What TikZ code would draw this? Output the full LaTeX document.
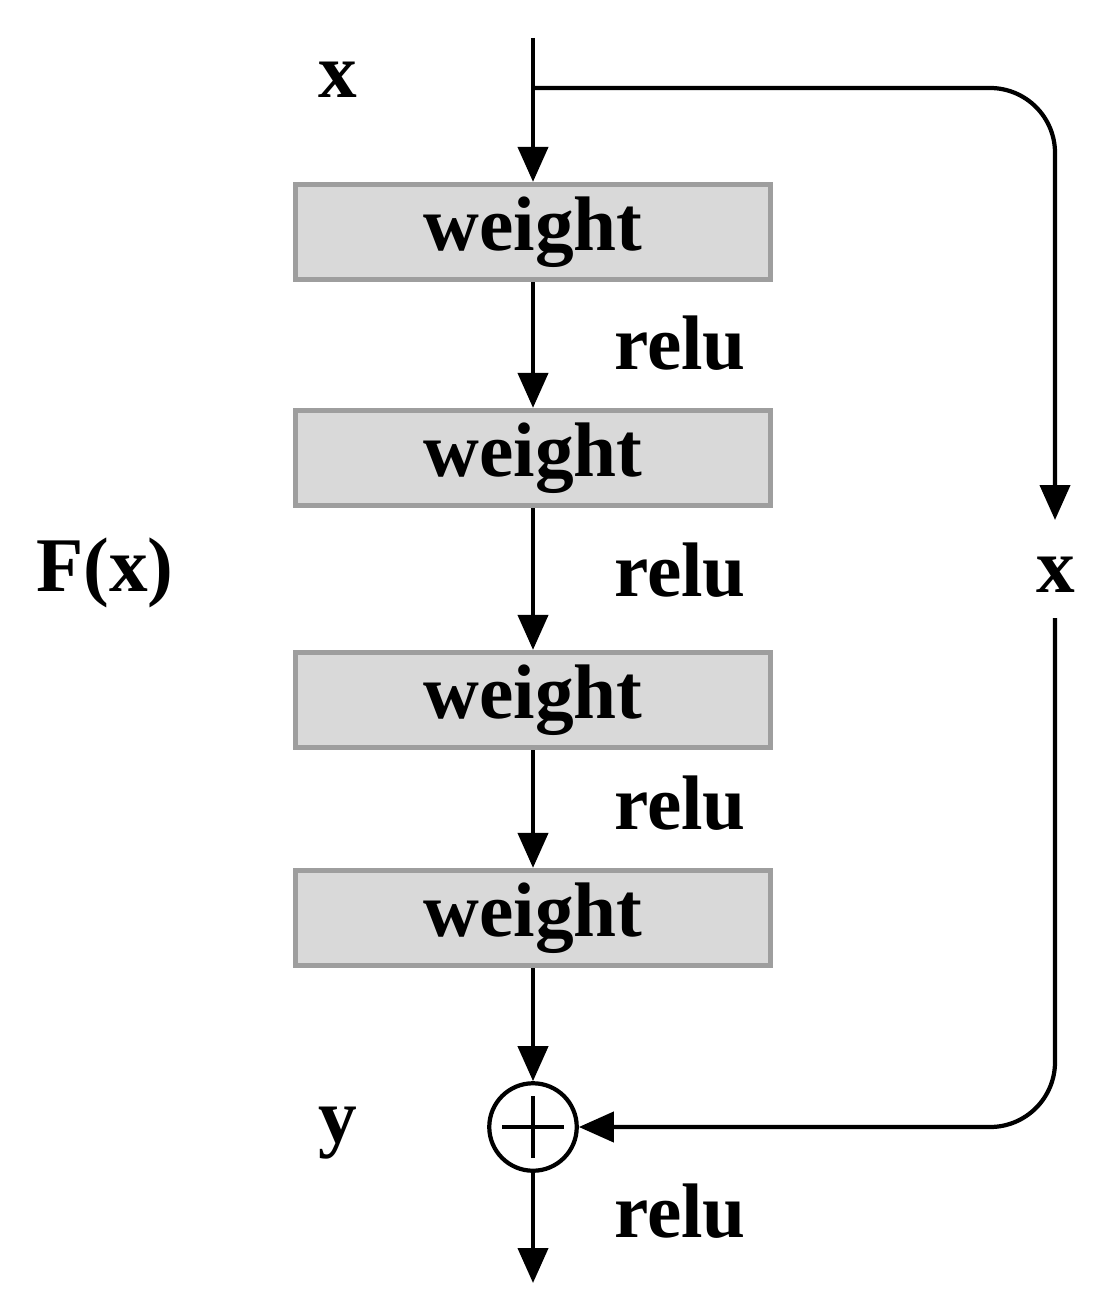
\documentclass[tikz,border=0pt]{standalone}
\usepackage{fontspec}
\setmainfont{Liberation Serif}
\usetikzlibrary{arrows.meta}
\begin{document}
\begin{tikzpicture}[x=0.02cm,y=-0.02cm,
  txt/.style={font=\fontsize{44}{48}\selectfont\bfseries},
  wbox/.style={txt,draw=black!38,fill=black!15,line width=3pt,minimum width=9.5cm,minimum height=1.9cm,inner sep=0pt},
  ln/.style={line width=2.4pt},
  arr/.style={ln,-{Triangle[length=0.7cm,width=0.6cm]}}]
\useasboundingbox (0,0) rectangle (1113,1310);
% blocks
\node[wbox] (w1) at (533,232) {weight};
\node[wbox] (w2) at (533,458) {weight};
\node[wbox] (w3) at (533,700) {weight};
\node[wbox] (w4) at (533,918) {weight};
\node[draw,circle,ln,minimum size=1.75cm,inner sep=0pt] (add) at (533,1127) {};
\draw[ln] ([yshift=-0.62cm]add.center) -- ([yshift=0.62cm]add.center)
          ([xshift=-0.62cm]add.center) -- ([xshift=0.62cm]add.center);
% labels
\node[txt] (lx) at (338,80) {x};
\node[txt] (r1) at (680,343) {relu};
\node[txt] (r2) at (680,570) {relu};
\node[txt] (r3) at (680,803) {relu};
\node[txt] (r4) at (680,1211) {relu};
\node[txt] (fx) at (105,573) {F(x)};
\node[txt] (ly) at (338,1133) {y};
\node[txt,inner sep=0pt] (sx) at (1056,575) {x};
% coordinates
\coordinate (top) at (533,38);
\coordinate (split) at (533,88);
\coordinate (out) at (533,1283);
\coordinate (s1) at (1055,520);
\coordinate (s2) at (1055,618);
% main path
\draw[arr] (top) -- (w1.north);
\draw[arr] (w1) -- (w2);
\draw[arr] (w2) -- (w3);
\draw[arr] (w3) -- (w4);
\draw[arr] (w4) -- (add);
\draw[arr] (add) -- (out);
% shortcut
\draw[arr,rounded corners=1.3cm] (split) -| (s1);
\draw[arr,rounded corners=1.3cm] (s2) |- (add);
\end{tikzpicture}
\end{document}
